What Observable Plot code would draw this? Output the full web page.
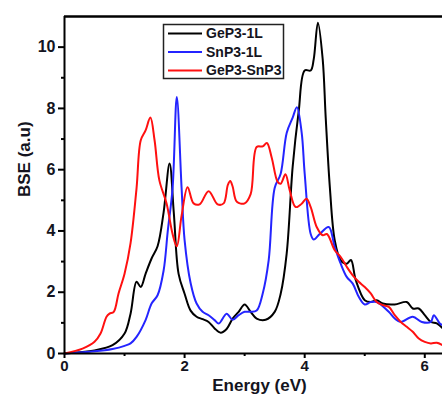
<!DOCTYPE html>
<html><head><meta charset="utf-8">
<script src="https://cdn.jsdelivr.net/npm/d3@7"></script>
<script src="https://cdn.jsdelivr.net/npm/@observablehq/plot@0.6"></script>
<style>
body{margin:0;background:#fff;}
svg{font-family:"Liberation Sans",Arial,sans-serif;}
</style></head>
<body><div id="chart"></div>
<script>
const seriesNames = ["GeP3-1L", "SnP3-1L", "GeP3-SnP3"];
const seriesColors = ["#000000", "#2424ff", "#ff1010"];
const xMajorTicks = [0, 2, 4, 6];
const xMinorTicks = [1, 3, 5];
const yMajorTicks = [0, 2, 4, 6, 8, 10];
const yMinorTicks = [1, 3, 5, 7, 9];

const geP3 = [[0,0],[0.5,0.1],[0.8,0.27],[1.0,0.65],[1.1,1.3],[1.2,2.34],[1.27,2.17],[1.35,2.6],[1.45,3.1],[1.55,3.5],[1.65,4.6],[1.75,6.2],[1.82,4.6],[1.9,2.6],[2.0,1.95],[2.1,1.4],[2.2,1.2],[2.3,1.12],[2.4,1.03],[2.5,0.82],[2.6,0.68],[2.7,0.8],[2.8,1.14],[2.9,1.36],[3.0,1.6],[3.1,1.36],[3.2,1.14],[3.35,1.1],[3.5,1.36],[3.6,1.95],[3.7,3.26],[3.8,6.1],[3.9,7.9],[4.0,9.24],[4.1,9.24],[4.15,9.6],[4.22,10.8],[4.3,9.6],[4.35,7.7],[4.42,5.4],[4.5,3.7],[4.6,3.04],[4.7,2.93],[4.77,3.05],[4.85,2.4],[5.0,1.74],[5.1,1.68],[5.2,1.74],[5.3,1.63],[5.5,1.6],[5.7,1.68],[5.8,1.47],[5.9,1.47],[6.0,1.25],[6.1,1.03],[6.2,0.98],[6.3,0.82]];
const snP3 = [[0,0],[0.5,0.07],[0.8,0.15],[1.0,0.25],[1.1,0.33],[1.2,0.54],[1.35,1.09],[1.45,1.63],[1.55,1.9],[1.65,2.7],[1.72,4.0],[1.8,5.4],[1.87,8.37],[1.95,5.4],[2.0,3.7],[2.1,2.3],[2.2,1.63],[2.3,1.36],[2.4,1.25],[2.5,1.09],[2.57,0.98],[2.7,1.3],[2.8,1.1],[2.9,1.25],[3.0,1.36],[3.1,1.36],[3.2,1.4],[3.3,1.95],[3.4,3.04],[3.5,5.4],[3.6,5.87],[3.7,7.2],[3.8,7.7],[3.87,8.04],[3.95,7.2],[4.0,5.87],[4.1,3.9],[4.15,3.72],[4.25,3.9],[4.4,4.13],[4.5,3.48],[4.6,2.93],[4.7,2.5],[4.8,2.28],[4.9,1.85],[5.0,1.6],[5.1,1.68],[5.2,1.68],[5.4,1.36],[5.5,1.14],[5.6,1.03],[5.8,1.2],[5.95,1.03],[6.1,1.03],[6.15,1.25],[6.25,0.98],[6.3,0.92]];
const heteroSeries = [[0,0],[0.3,0.16],[0.5,0.38],[0.6,0.65],[0.7,1.2],[0.75,1.3],[0.82,1.36],[0.9,1.96],[1.0,2.6],[1.1,3.6],[1.2,5.4],[1.27,6.96],[1.35,7.28],[1.43,7.7],[1.5,6.96],[1.58,5.65],[1.7,4.9],[1.8,3.9],[1.87,3.5],[1.95,4.5],[2.05,5.43],[2.15,4.9],[2.25,4.87],[2.4,5.3],[2.55,4.87],[2.65,4.9],[2.72,5.5],[2.76,5.63],[2.8,5.45],[2.87,4.95],[3.0,4.9],[3.1,5.2],[3.2,6.74],[3.3,6.76],[3.37,6.87],[3.45,6.4],[3.55,5.6],[3.6,5.54],[3.68,5.85],[3.75,5.33],[3.85,4.78],[3.95,4.89],[4.03,5.05],[4.1,4.78],[4.2,4.13],[4.3,3.86],[4.37,3.9],[4.5,3.37],[4.6,3.15],[4.7,2.83],[4.8,2.55],[4.9,2.34],[5.0,2.17],[5.1,1.96],[5.2,1.68],[5.3,1.58],[5.4,1.52],[5.5,1.25],[5.6,1.03],[5.7,0.87],[5.8,0.71],[5.9,0.49],[6.0,0.38],[6.1,0.33],[6.2,0.35],[6.3,0.27]];

const allSeries = [geP3, snP3, heteroSeries];
const rows = allSeries.flatMap((s, i) => s.map(([e, v]) => ({energy: e, bse: v, series: seriesNames[i]})));

const font = {fontSize: 15, fontWeight: "bold", fill: "#141420"};

const plot = Plot.plot({
  width: 442, height: 398,
  marginLeft: 64, marginRight: 0, marginTop: 16, marginBottom: 45,
  style: {fontFamily: "'Liberation Sans', Arial, sans-serif", background: "#fff", overflow: "visible"},
  x: {domain: [0, 6.295]},
  y: {domain: [0, 11]},
  color: {domain: seriesNames, range: seriesColors},
  marks: [
    Plot.line(rows, {x: "energy", y: "bse", z: "series", stroke: "series", strokeWidth: 2, curve: "catmull-rom"}),
    Plot.ruleY([0], {stroke: "#000", strokeWidth: 2}),
    Plot.ruleY([11], {stroke: "#000", strokeWidth: 2.5}),
    Plot.ruleX([0], {stroke: "#000", strokeWidth: 2}),
    Plot.axisX({ticks: xMajorTicks, tickSize: 5, tickPadding: 2, tickFormat: d => String(d), label: null, strokeWidth: 2, ...font, fontSize: 15}),
    Plot.axisX({ticks: xMinorTicks, tickSize: 3, label: null, strokeWidth: 2, text: null}),
    Plot.axisY({ticks: yMajorTicks, tickSize: 6, tickPadding: 3, tickFormat: d => String(d), label: null, strokeWidth: 2, ...font, fontSize: 16}),
    Plot.axisY({ticks: yMinorTicks, tickSize: 3, label: null, strokeWidth: 2, text: null}),
    Plot.text(["Energy (eV)"], {frameAnchor: "bottom", dx: 6, dy: 37, ...font, fontSize: 17}),
    Plot.text(["BSE (a.u)"], {frameAnchor: "left", rotate: -90, dx: -40, dy: 12, ...font, fontSize: 17})
  ]
});

// legend box
const svg = d3.select(plot);
const lg = svg.append("g");
lg.append("rect").attr("x", 163.5).attr("y", 24.5).attr("width", 120).attr("height", 54)
  .attr("fill", "#fff").attr("stroke", "#222").attr("stroke-width", 1.5);
seriesNames.forEach((name, i) => {
  const yy = 33.5 + i * 18.5;
  lg.append("line").attr("x1", 168).attr("x2", 202).attr("y1", yy).attr("y2", yy)
    .attr("stroke", seriesColors[i]).attr("stroke-width", 2);
  lg.append("text").attr("x", 206).attr("y", yy).attr("dy", "0.35em")
    .attr("text-anchor", "start")
    .style("font-size", "14px").style("font-weight", "bold").attr("fill", "#141420").text(name);
});
document.getElementById("chart").appendChild(plot);
</script>
</body></html>
